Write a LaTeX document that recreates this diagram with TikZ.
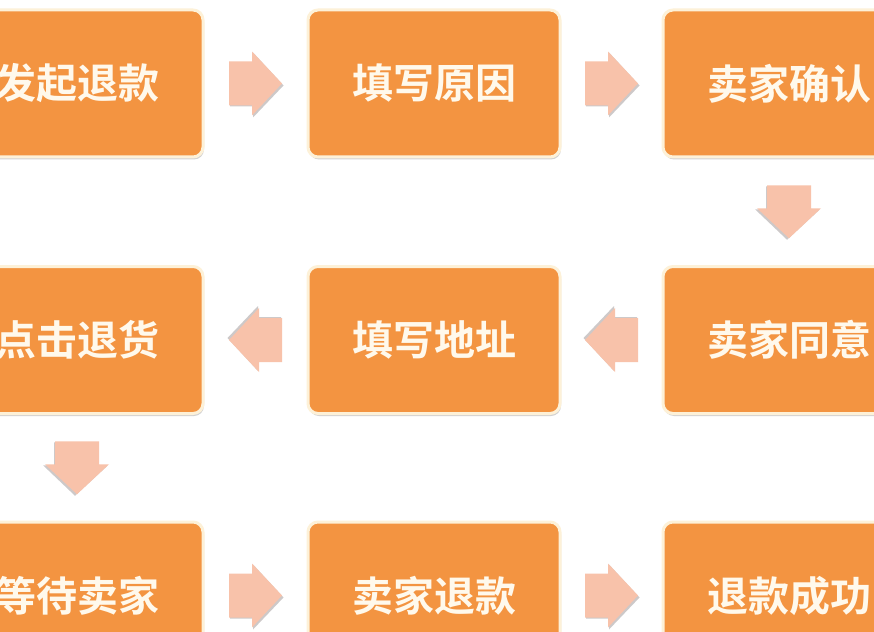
\documentclass[tikz,border=0pt]{standalone}
\usepackage{fontspec}
\newfontfamily\cjk{Noto Sans CJK SC Bold}
\usetikzlibrary{shadows,calc}
\definecolor{boxorange}{HTML}{F39441}
\definecolor{boxedge}{HTML}{FDF1D8}
\definecolor{arrowc}{HTML}{F8C2AA}
\definecolor{arrowsh}{HTML}{B9B3B3}
\definecolor{txt}{HTML}{FFF9EC}
\tikzset{
  stepbox/.style={rectangle, rounded corners=10pt, fill=boxorange, draw=boxedge,
    line width=3pt, minimum width=252pt, minimum height=147pt, inner sep=0pt,
    text=txt, font=\cjk\fontsize{41}{41}\selectfont,
    drop shadow={shadow xshift=1pt, shadow yshift=-2.5pt, opacity=0.35, fill=gray}},
  blockarr/.pic={
    \fill[arrowsh, opacity=0.7] (-25.5,-20) -- (-2.5,-20) -- (-2.5,-31) -- (28,2) -- (-2.5,34) -- (-2.5,23) -- (-25.5,23) -- cycle;
    \fill[arrowc] (-26.5,-22) -- (-3.5,-22) -- (-3.5,-32) -- (26.5,0) -- (-3.5,32) -- (-3.5,22) -- (-26.5,22) -- cycle;
  }
}
\begin{document}
\begin{tikzpicture}[x=1pt,y=-1pt]
\useasboundingbox (0,0) rectangle (874,631);
\fill[white] (0,0) rectangle (874,631);
\node[stepbox] (a) at (77,83.5) {发起退款};
\node[stepbox] (b) at (434,83.5) {填写原因};
\node[stepbox] (c) at (789,83.5) {卖家确认};
\node[stepbox] (d) at (789,340) {卖家同意};
\node[stepbox] (e) at (434,340) {填写地址};
\node[stepbox] (f) at (77,340) {点击退货};
\node[stepbox] (g) at (77,595.5) {等待卖家};
\node[stepbox] (h) at (434,595.5) {卖家退款};
\node[stepbox] (i) at (789,595.5) {退款成功};
\pic at ($(a.east)!0.5!(b.west)$) {blockarr};
\pic at ($(b.east)!0.5!(c.west)$) {blockarr};
\pic[rotate=-90] at ($(c.south)!0.5!(d.north)$) {blockarr};
\pic[rotate=180] at ($(d.west)!0.5!(e.east)$) {blockarr};
\pic[rotate=180] at ($(e.west)!0.5!(f.east)$) {blockarr};
\pic[rotate=-90] at ($(f.south)!0.5!(g.north)$) {blockarr};
\pic at ($(g.east)!0.5!(h.west)$) {blockarr};
\pic at ($(h.east)!0.5!(i.west)$) {blockarr};
\end{tikzpicture}
\end{document}
